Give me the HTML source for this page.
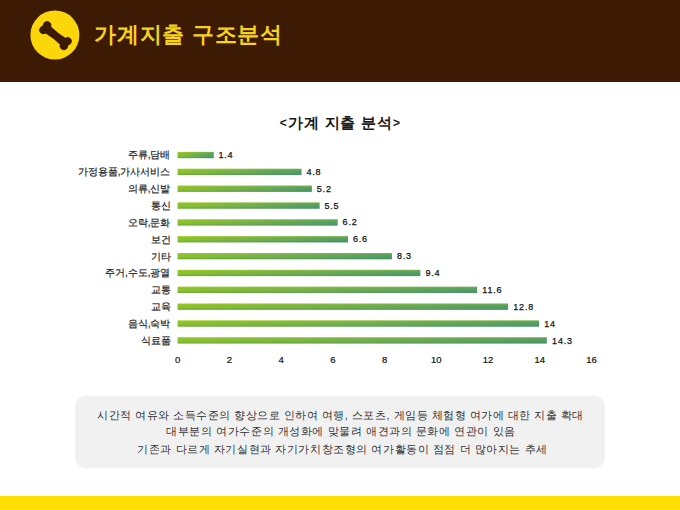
<!DOCTYPE html>
<html><head><meta charset="utf-8">
<style>
html,body{margin:0;padding:0;}
body{width:680px;height:510px;position:relative;overflow:hidden;background:#fff;font-family:"Liberation Sans",sans-serif;}
.hdr{position:absolute;left:0;top:0;width:680px;height:82px;background:#3c1a03;}
.logo{position:absolute;left:0;top:0;}
.ttl{position:absolute;left:94px;top:20px;font-size:22px;letter-spacing:0.75px;font-weight:bold;color:#f6d21c;white-space:nowrap;line-height:30px;}
.ctitle{position:absolute;left:0;width:680px;top:113px;text-align:center;font-size:15px;letter-spacing:0.3px;word-spacing:1.4px;font-weight:bold;color:#1a1a1a;line-height:20px;white-space:nowrap;}
.lbl{position:absolute;right:509.5px;font-size:10px;font-weight:normal;-webkit-text-stroke:0.2px #1e1e1e;color:#1e1e1e;white-space:nowrap;line-height:12px;}
.val{position:absolute;font-size:9px;letter-spacing:0.8px;color:#111;-webkit-text-stroke:0.25px #111;white-space:nowrap;line-height:12px;}
.tick{position:absolute;top:354.3px;font-size:9.5px;color:#111;-webkit-text-stroke:0.2px #111;width:30px;margin-left:-14.6px;text-align:center;line-height:12px;}
.br{font-size:12px;position:relative;top:-1px;}
.box{position:absolute;left:75px;top:396px;width:530px;height:71.6px;background:#f1f1f1;border-radius:11px;}
.txt{position:absolute;left:0;width:680px;text-align:center;font-size:11px;letter-spacing:0.5px;color:#333;white-space:nowrap;line-height:14px;}
.foot{position:absolute;left:0;top:495.5px;width:680px;height:15px;background:#ffdf00;}
</style></head><body>
<div class="hdr"></div>
<svg class="logo" width="680" height="82" viewBox="0 0 680 82">
  <circle cx="54.9" cy="35" r="24.5" fill="#fad60a"/>
  <g transform="translate(55.5 35.6) rotate(38)" fill="#3c1a03">
    <path d="M-13 -4.6 Q0 -3.0 13 -4.6 L13 4.6 Q0 3.0 -13 4.6 Z"/>
    <circle cx="-13" cy="-3" r="4.1"/>
    <circle cx="-13" cy="3" r="4.1"/>
    <circle cx="13" cy="-3" r="4.1"/>
    <circle cx="13" cy="3" r="4.1"/>
  </g>
</svg>
<div class="ttl">가계지출 구조분석</div>

<div class="ctitle"><span class="br" style="margin-right:1.5px">&lt;</span>가계 지출 분석<span class="br" style="margin-left:1px">&gt;</span></div>

<div class="lbl" style="top:149.4px">주류,담배</div>
<div class="lbl" style="top:166.2px">가정용품,가사서비스</div>
<div class="lbl" style="top:183.1px">의류,신발</div>
<div class="lbl" style="top:200.0px">통신</div>
<div class="lbl" style="top:216.8px">오락,문화</div>
<div class="lbl" style="top:233.7px">보건</div>
<div class="lbl" style="top:250.5px">기타</div>
<div class="lbl" style="top:267.4px">주거,수도,광열</div>
<div class="lbl" style="top:284.2px">교통</div>
<div class="lbl" style="top:301.1px">교육</div>
<div class="lbl" style="top:317.9px">음식,숙박</div>
<div class="lbl" style="top:334.8px">식료품</div>

<svg class="bars" width="680" height="510" viewBox="0 0 680 510" style="position:absolute;left:0;top:0">
<defs><linearGradient id="gh" x1="0" y1="0" x2="1" y2="0"><stop offset="0" stop-color="#8cc526"/><stop offset="0.5" stop-color="#72b04c"/><stop offset="1" stop-color="#4f9e64"/></linearGradient>
<linearGradient id="gv" x1="0" y1="0" x2="0" y2="1"><stop offset="0" stop-color="#d8f000" stop-opacity="0.3"/><stop offset="0.5" stop-color="#808080" stop-opacity="0"/><stop offset="1" stop-color="#00646e" stop-opacity="0.28"/></linearGradient></defs>
<rect x="177.6" y="151.90" width="36.15" height="6.25" fill="url(#gh)"/><rect x="177.6" y="151.90" width="36.15" height="6.25" fill="url(#gv)"/>
<rect x="177.6" y="168.75" width="123.94" height="6.25" fill="url(#gh)"/><rect x="177.6" y="168.75" width="123.94" height="6.25" fill="url(#gv)"/>
<rect x="177.6" y="185.60" width="134.26" height="6.25" fill="url(#gh)"/><rect x="177.6" y="185.60" width="134.26" height="6.25" fill="url(#gv)"/>
<rect x="177.6" y="202.45" width="142.01" height="6.25" fill="url(#gh)"/><rect x="177.6" y="202.45" width="142.01" height="6.25" fill="url(#gv)"/>
<rect x="177.6" y="219.30" width="160.08" height="6.25" fill="url(#gh)"/><rect x="177.6" y="219.30" width="160.08" height="6.25" fill="url(#gv)"/>
<rect x="177.6" y="236.15" width="170.41" height="6.25" fill="url(#gh)"/><rect x="177.6" y="236.15" width="170.41" height="6.25" fill="url(#gv)"/>
<rect x="177.6" y="253.00" width="214.31" height="6.25" fill="url(#gh)"/><rect x="177.6" y="253.00" width="214.31" height="6.25" fill="url(#gv)"/>
<rect x="177.6" y="269.85" width="242.71" height="6.25" fill="url(#gh)"/><rect x="177.6" y="269.85" width="242.71" height="6.25" fill="url(#gv)"/>
<rect x="177.6" y="286.70" width="299.51" height="6.25" fill="url(#gh)"/><rect x="177.6" y="286.70" width="299.51" height="6.25" fill="url(#gv)"/>
<rect x="177.6" y="303.55" width="330.50" height="6.25" fill="url(#gh)"/><rect x="177.6" y="303.55" width="330.50" height="6.25" fill="url(#gv)"/>
<rect x="177.6" y="320.40" width="361.48" height="6.25" fill="url(#gh)"/><rect x="177.6" y="320.40" width="361.48" height="6.25" fill="url(#gv)"/>
<rect x="177.6" y="337.25" width="369.23" height="6.25" fill="url(#gh)"/><rect x="177.6" y="337.25" width="369.23" height="6.25" fill="url(#gv)"/>
</svg>

<div class="val" style="top:148.8px;left:218.5px">1.4</div>
<div class="val" style="top:165.7px;left:306.4px">4.8</div>
<div class="val" style="top:182.6px;left:316.8px">5.2</div>
<div class="val" style="top:199.5px;left:324.5px">5.5</div>
<div class="val" style="top:216.4px;left:342.6px">6.2</div>
<div class="val" style="top:233.3px;left:353.0px">6.6</div>
<div class="val" style="top:250.2px;left:396.9px">8.3</div>
<div class="val" style="top:267.1px;left:425.4px">9.4</div>
<div class="val" style="top:284.0px;left:482.3px">11.6</div>
<div class="val" style="top:300.9px;left:513.3px">12.8</div>
<div class="val" style="top:317.8px;left:544.3px">14</div>
<div class="val" style="top:334.7px;left:552.1px">14.3</div>

<div class="tick" style="left:177.3px">0</div>
<div class="tick" style="left:229.0px">2</div>
<div class="tick" style="left:280.7px">4</div>
<div class="tick" style="left:332.5px">6</div>
<div class="tick" style="left:384.2px">8</div>
<div class="tick" style="left:435.9px">10</div>
<div class="tick" style="left:487.6px">12</div>
<div class="tick" style="left:539.3px">14</div>
<div class="tick" style="left:591.1px">16</div>

<div class="box"></div>
<div class="txt" style="top:407.5px;padding-left:0.5px">시간적 여유와 소득수준의 향상으로 인하여 여행, 스포츠, 게임등 체험형 여가에 대한 지출 확대</div>
<div class="txt" style="top:424px;letter-spacing:0.57px;padding-left:1px">대부분의 여가수준의 개성화에 맞물려 애견과의 문화에 연관이 있음</div>
<div class="txt" style="top:441.5px;letter-spacing:0.56px;padding-left:2.5px">기존과 다르게 자기실현과 자기가치창조형의 여가활동이 점점 더 많아지는 추세</div>

<div class="foot"></div>
</body></html>
